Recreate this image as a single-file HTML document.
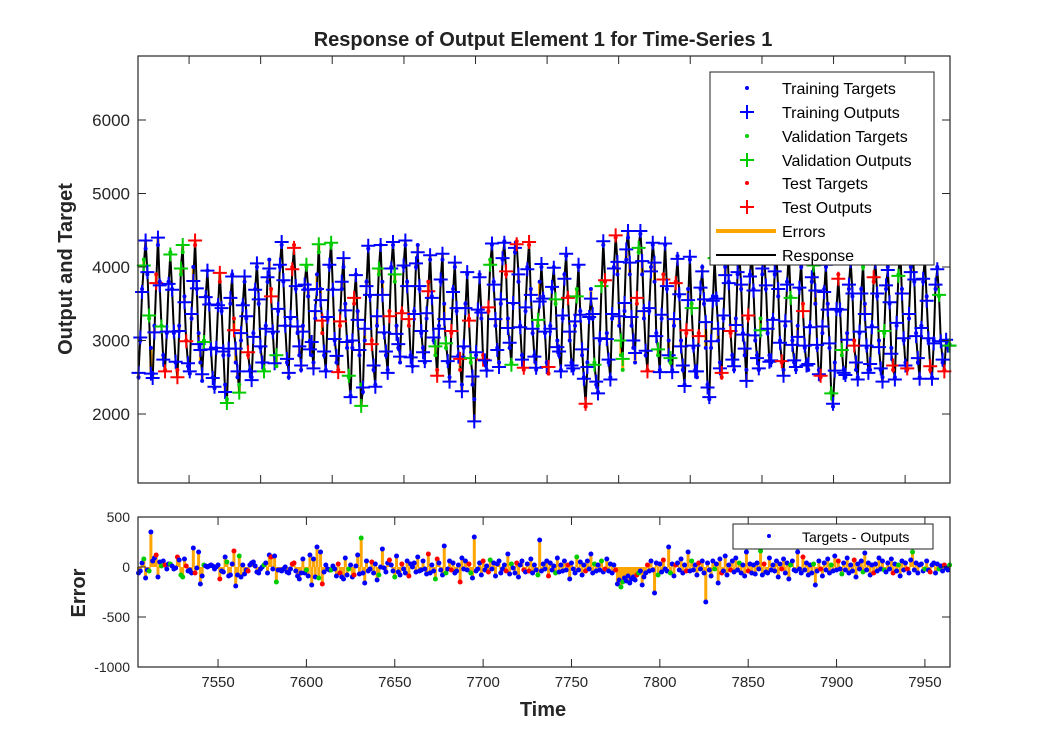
<!DOCTYPE html>
<html><head><meta charset="utf-8"><style>
body{margin:0;background:#fff;}
svg{display:block;font-family:"Liberation Sans",Arial,sans-serif;}
</style></head><body>
<svg id="chart" width="1050" height="750" viewBox="0 0 1050 750">
<rect width="1050" height="750" fill="#fff"/>
<text id="title" x="543" y="46" text-anchor="middle" font-size="20" font-weight="bold" fill="#222">Response of Output Element 1 for Time-Series 1</text>
<text transform="translate(72,269) rotate(-90)" text-anchor="middle" font-size="20" font-weight="bold" fill="#262626">Output and Target</text>
<text transform="translate(85,593) rotate(-90)" text-anchor="middle" font-size="20" font-weight="bold" fill="#262626">Error</text>
<text x="543" y="716" text-anchor="middle" font-size="20" font-weight="bold" fill="#262626">Time</text>
<g id="main"></g>
<g id="err"></g>
<g id="legend">
<rect x="710" y="72" width="224" height="193" fill="#fff" stroke="#222" stroke-width="1"/>
<circle cx="747" cy="88" r="2" fill="#0000ff"/><text x="782" y="94" font-size="16" fill="#000">Training Targets</text>
<path d="M740 112h14M747 105v14" stroke="#0000ff" stroke-width="2"/><text x="782" y="118" font-size="16" fill="#000">Training Outputs</text>
<circle cx="747" cy="136" r="2" fill="#00cc00"/><text x="782" y="142" font-size="16" fill="#000">Validation Targets</text>
<path d="M740 160h14M747 153v14" stroke="#00cc00" stroke-width="2"/><text x="782" y="166" font-size="16" fill="#000">Validation Outputs</text>
<circle cx="747" cy="183" r="2" fill="#ff0000"/><text x="782" y="189" font-size="16" fill="#000">Test Targets</text>
<path d="M740 207h14M747 200v14" stroke="#ff0000" stroke-width="2"/><text x="782" y="213" font-size="16" fill="#000">Test Outputs</text>
<path d="M716 231h60" stroke="#ffa500" stroke-width="4"/><text x="782" y="237" font-size="16" fill="#000">Errors</text>
<path d="M716 255h60" stroke="#000" stroke-width="2"/><text x="782" y="261" font-size="16" fill="#000">Response</text>
</g>
<g id="legend2">
<rect x="733" y="524" width="200" height="25" fill="#fff" stroke="#222" stroke-width="1"/>
<circle cx="769" cy="536" r="2" fill="#0000ff"/>
<text x="802" y="542" font-size="14" fill="#000">Targets - Outputs</text>
</g>
</svg>
<script>
const xStart = 7505;
const xTicks = [7550,7600,7650,7700,7750,7800,7850,7900,7950];
const mainXTicks = [7533.6,7574.1,7614.6,7655.2,7695.7,7736.2,7776.7,7817.2,7857.8,7898.3,7938.8];
const yTicksMain = [2000,3000,4000,5000,6000];
const yTicksErr = [-1000,-500,0,500];
const targets = [
2500,3000,3700,4100,4250,3900,3300, 2900,2550,3200,3900,4300,3800,3200, 2800,2600,3100,3800,4200,3700,3100,
2700,2600,3200,3900,4200,3600,3000, 2650,2550,3300,4000,4300,3700,3100, 2700,2450,3000,3600,3950,3500,2900,
2500,2350,2900,3500,3800,3400,2800, 2400,2200,2800,3500,3900,3300,2700, 2500,2400,3000,3500,3800,3300,2800,
2600,2500,3100,3700,4000,3500,2900, 2700,2600,3200,3800,4100,3700,3100, 2800,2650,3400,4000,4300,3800,3200,
2700,2500,3300,4000,4300,3700,3100, 2800,2600,3200,3700,4000,3600,3000, 2800,2700,3300,3900,4200,3700,3100,
2800,2600,3300,4000,4300,3700,3000, 2700,2600,3200,3700,4000,3500,2900, 2500,2250,2900,3500,3900,3400,2800,
2400,2300,3000,3800,4250,3600,3000, 2600,2400,3200,3900,4300,3800,3100, 2800,2600,3400,4000,4300,3800,3200,
2900,2700,3400,4000,4300,3800,3200, 2800,2650,3400,4000,4300,3700,3100, 2900,2700,3300,3800,4100,3600,3000,
2800,2600,3200,3800,4100,3500,2900, 2700,2500,3100,3700,4000,3400,2800, 2600,2400,2900,3500,3900,3300,2700,
2400,2200,2800,3400,3900,3300,2800, 2700,2600,3400,4100,4300,3800,3200, 2900,2700,3500,4100,4350,3900,3300,
2900,2700,3500,4200,4350,3800,3200, 2800,2600,3400,4000,4300,3700,3100, 2800,2600,3200,3800,4000,3600,3100,
2700,2550,3200,3700,4000,3500,3000, 2800,2600,3300,3900,4150,3600,3000, 2700,2600,3200,3700,4000,3400,2800,
2500,2100,2700,3300,3700,3300,2700, 2400,2300,3000,3800,4300,3800,3100, 2700,2500,3300,4000,4400,3900,3200,
2800,2600,3400,4100,4400,3900,3200, 2900,2700,3500,4200,4450,3900,3300, 2800,2600,3400,4000,4300,3800,3100,
2800,2600,3300,3900,4300,3700,3000, 2700,2600,3200,3800,4150,3600,3000, 2600,2400,3100,3700,4100,3500,2900,
2600,2500,3100,3700,4000,3500,2900, 2400,2200,2900,3600,4100,3600,3000, 2700,2500,3300,4000,4300,3800,3100,
2800,2600,3300,3900,4200,3700,3100, 2800,2600,3300,3900,4200,3700,3000, 2800,2600,3300,3900,4200,3700,3100,
2800,2700,3300,3900,4200,3600,3000, 2700,2600,3200,3800,4100,3600,3000, 2700,2600,3200,3700,4000,3500,2900,
2700,2600,3200,3800,4050,3500,2900, 2600,2500,3100,3700,4000,3500,2900, 2300,2100,2700,3400,3900,3400,2800,
2600,2500,3100,3700,4100,3600,3000, 2600,2500,3100,3700,4000,3500,2900, 2600,2600,3200,3800,4100,3600,3000,
2600,2500,3100,3700,4000,3500,2900, 2600,2500,3200,3900,4200,3700,3000, 2700,2600,3300,4000,4400,3800,3100,
2700,2500,3200,3800,4100,3600,3000, 2600,2500,3000,3700,4000,3600,3000, 2700,2600,3000,2900,2950
];
const errors = [
-60,-40,40,80,-110,-30,-40,350,60,90,120,-100,50,10,60,20,-20,30,30,10,
-20,-10,100,70,-80,-100,80,10,-40,-30,-60,190,-60,-10,150,-170,-90,20,10,0,
10,20,10,-20,0,20,-120,-40,-50,100,50,-90,-80,30,160,-190,-80,110,-100,20,
-70,-30,-40,20,40,50,10,-50,-60,-20,0,20,40,-60,120,100,-20,110,-150,-30,
-30,-40,-20,0,-50,-60,-20,30,40,-40,-90,-120,-60,80,-60,-30,-90,120,-180,80,
-100,200,-110,150,-170,-50,20,-20,-30,-30,10,-20,-90,30,-60,-100,-120,90,-80,-20,
20,-100,-80,10,120,-70,290,-60,-160,60,-40,-20,50,-60,30,-130,-80,0,180,-10,
-50,40,70,20,-40,-100,110,-50,-80,30,-20,-60,60,-90,30,0,40,-50,100,-40,
-30,60,-20,-70,130,-60,20,-40,-120,80,40,-30,-80,210,-60,-20,60,-30,40,-60,
-40,20,-150,90,-20,60,-30,30,-60,-110,300,-40,-20,40,-80,60,-30,10,-50,70,
-20,40,-90,30,60,-60,-20,20,-40,130,-70,30,-10,-60,40,-100,20,60,-30,-50,
30,-40,80,-60,20,-30,-80,270,-40,30,-20,60,-90,40,-30,10,-60,90,-50,20,
-40,60,-30,20,-120,40,-20,-60,100,-30,50,-80,20,-40,60,-20,130,-60,30,-40,
20,-30,60,-50,-20,80,-40,30,-60,20,-30,-170,-130,-200,-150,-110,-140,-90,-160,-120,
-100,-130,-80,-60,-40,-180,-100,-60,20,-40,60,-30,-260,40,-80,30,-50,70,-20,-40,
200,-60,30,-90,20,40,-30,80,-60,20,-40,150,-40,60,-30,20,-80,40,-20,60,
-60,-350,40,-30,-90,60,-20,30,-160,80,-60,-40,110,-80,20,-30,60,-50,90,-30,
40,-60,20,-90,150,-40,30,-60,20,-70,40,-20,160,-80,30,-50,-60,90,-30,20,
-40,60,-100,30,-20,80,-60,40,-120,20,60,-30,-40,150,-20,-60,100,-30,40,-80,
20,-60,30,-180,-40,60,-20,-90,40,-30,80,-60,20,-40,110,-30,60,-20,-70,40,
-30,90,-60,20,-40,70,-100,30,-20,60,-50,140,-30,40,-80,20,-60,30,-40,90,
-20,60,-30,-50,40,-20,80,-60,30,-40,20,-90,60,-30,40,-20,-60,70,150,-30,
40,-60,20,30,-40,-20,60,-30,-50,20,40,-60,30,-20,10,-40,20,-10,-30,20
];
const sets = [
"tttvttvtttsttvtsttvt","ttstvvtsttttsttttvtt","ttttttstttvtttsttvtt","ttsttttttttvtttsttvt",
"tttttttssttttttvtttt","ttvtsttttvtttssttttv","ttstttvtttttstttvttt","ttsttvtttstttstttttt",
"ttttstttvsttttvttstt","ttsttttsvttttttsttsv","ttttttttsttvttstttst","tsttttvtttttstttvttt",
"tttsttttvttttsttttvt","ttvtstttttsttvvttttt","ttsvttttstttttvttstt","tvttstttttsttvtttstt",
"ttttttvtttsttttstttt","vttttsttttttvtsttttt","ttttsttttvttttttsttt","ttvtttstttttvtttstvt",
"tttttsttttvtttttsttt","ttvttttsttvttttsttvt","tttttvttsttttvttsttv"
].join('');

const NS = 'http://www.w3.org/2000/svg';
const M = {l:138,r:950,t:56,b:483, ymin:1061, ymax:6871};
const E = {t:517,b:667, ymin:-1000, ymax:500};
const xMin = 7504.7, xMax = 7964.2;
function sx(v){return M.l+(v-xMin)/(xMax-xMin)*(M.r-M.l);}
function syM(v){return M.b-(v-M.ymin)/(M.ymax-M.ymin)*(M.b-M.t);}
function syE(v){return E.b-(v-E.ymin)/(E.ymax-E.ymin)*(E.b-E.t);}
function mk(tag,attrs,parent){const e=document.createElementNS(NS,tag);for(const k in attrs)e.setAttribute(k,attrs[k]);parent.appendChild(e);return e;}
const colors={t:'#0000ff',v:'#00cc00',s:'#ff0000'};
const main=document.getElementById('main'), err=document.getElementById('err');

const n = targets.length;
const outputs = targets.map((t,i)=>t-errors[i]);
for(let i=0;i<n;i++){
  const x=sx(xStart+i);
  const l=mk('line',{x1:x,x2:x,y1:syM(targets[i]),y2:syM(outputs[i]),stroke:'#ffa500','stroke-width':3},main);
  
  
}
let d='';
for(let i=0;i<n;i++){d+=(i?'L':'M')+sx(xStart+i).toFixed(1)+' '+syM(outputs[i]).toFixed(1);}
const resp=mk('path',{d:d,fill:'none',stroke:'#000','stroke-width':2},main);


for(let i=0;i<n;i++){
  const x=sx(xStart+i), y=syM(outputs[i]), c=colors[sets[i]]||'#0000ff';
  const p=mk('path',{d:`M${x-7} ${y}h14M${x} ${y-7}v14`,stroke:c,'stroke-width':2},main);
  
  
  const t=mk('circle',{cx:x,cy:syM(targets[i]),r:2,fill:c},main);
  
  
}
for(let i=0;i<n;i++){
  const x=sx(xStart+i);
  const s=mk('line',{x1:x,x2:x,y1:syE(0),y2:syE(errors[i]),stroke:'#ffa500','stroke-width':3},err);
  
  
}
for(let i=0;i<n;i++){
  const c=colors[sets[i]]||'#0000ff';
  const p=mk('circle',{cx:sx(xStart+i),cy:syE(errors[i]),r:2.5,fill:c},err);
  
  
}
function frame(g,top,bottom,yTicks,sy,fs,xt){
  mk('rect',{x:M.l,y:top,width:M.r-M.l,height:bottom-top,fill:'none',stroke:'#262626','stroke-width':1.2},g);
  yTicks.forEach(v=>{const y=sy(v);
    mk('line',{x1:M.l,x2:M.l+8,y1:y,y2:y,stroke:'#262626'},g);
    mk('line',{x1:M.r,x2:M.r-8,y1:y,y2:y,stroke:'#262626'},g);
    const t=mk('text',{x:M.l-8,y:y+fs*0.35,'text-anchor':'end','font-size':fs,fill:'#262626'},g);
    t.textContent=v;
    
    
  });
  xt.forEach(v=>{const x=sx(v);
    mk('line',{x1:x,x2:x,y1:bottom,y2:bottom-8,stroke:'#262626'},g);
    mk('line',{x1:x,x2:x,y1:top,y2:top+8,stroke:'#262626'},g);
  });
}
frame(main,M.t,M.b,yTicksMain,syM,17,mainXTicks);
frame(err,E.t,E.b,yTicksErr,syE,14,xTicks);
xTicks.forEach(v=>{
  const t=mk('text',{x:sx(v),y:E.b+20,'text-anchor':'middle','font-size':15,fill:'#262626'},err);
  t.textContent=v;
  
  
});
const svg=document.getElementById('chart');
svg.appendChild(document.getElementById('legend'));
svg.appendChild(document.getElementById('legend2'));
svg.appendChild(document.getElementById('title'));
</script>
</body></html>
